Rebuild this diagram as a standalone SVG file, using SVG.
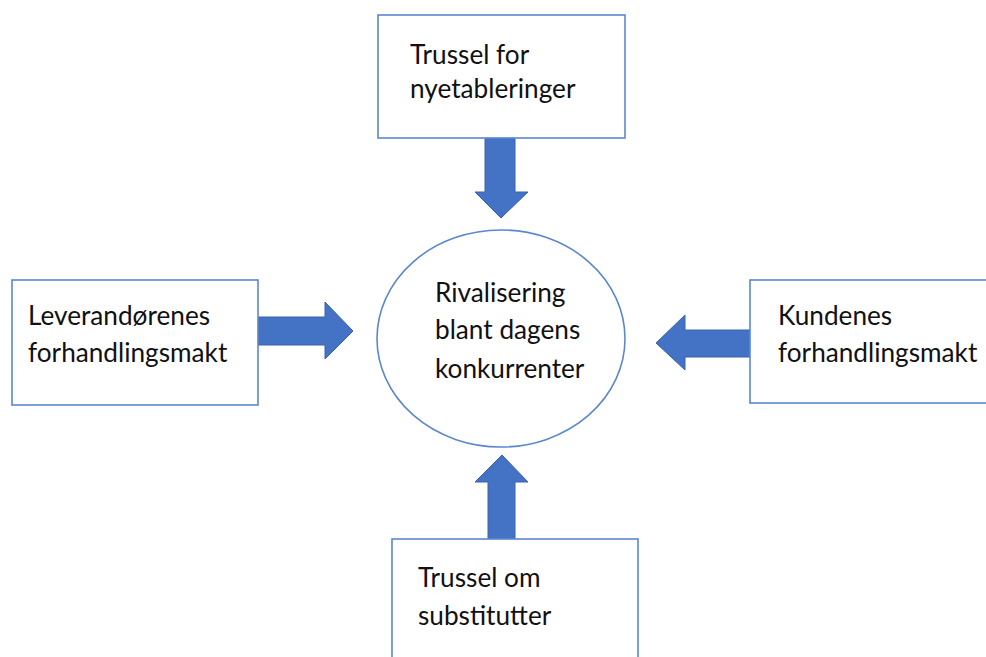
<svg xmlns="http://www.w3.org/2000/svg" width="986" height="657" viewBox="0 0 986 657">
<style>
.box{fill:#fff;stroke:#5B87CF;stroke-width:1.6}
.arr{fill:#4472C4;stroke:#3A63AE;stroke-width:1}
.t{font-family:Lato,"Liberation Sans",sans-serif;font-size:26.2px;fill:#111}
</style>
<rect width="986" height="657" fill="#fff"/>
<g id="connectors">
<polygon class="arr" points="485,138 515,138 515,192 528,192 501,218 475,192 485,192"/>
<polygon class="arr" points="258,317 325,317 325,302 353,331 325,359 325,345 258,345"/>
<polygon class="arr" points="750,330 685,330 685,315 656,343 685,370 685,357 750,357"/>
<polygon class="arr" points="488,539 488,482 475,482 502,455 528,482 515,482 515,539"/>
</g>
<g id="center">
<ellipse class="box" cx="501" cy="338.5" rx="124" ry="108.5" stroke-width="2"/>
<text class="t" x="435" y="302">Rivalisering</text>
<text class="t" x="435" y="339">blant dagens</text>
<text class="t" x="435" y="378">konkurrenter</text>
</g>
<g id="top">
<rect class="box" x="378" y="15" width="247" height="123"/>
<text class="t" x="410" y="64">Trussel for</text>
<text class="t" x="410" y="98">nyetableringer</text>
</g>
<g id="left">
<rect class="box" x="12" y="280" width="246" height="125"/>
<text class="t" x="28" y="325">Leverandørenes</text>
<text class="t" x="28" y="362">forhandlingsmakt</text>
</g>
<g id="right">
<rect class="box" x="750" y="280" width="240" height="123"/>
<text class="t" x="778" y="325">Kundenes</text>
<text class="t" x="778" y="362">forhandlingsmakt</text>
</g>
<g id="bottom">
<rect class="box" x="392" y="539" width="246" height="130"/>
<text class="t" x="418" y="587">Trussel om</text>
<text class="t" x="418" y="625">substitutter</text>
</g>
</svg>
